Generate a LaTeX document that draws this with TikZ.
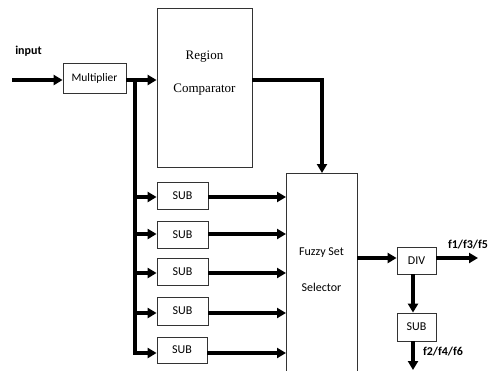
\documentclass[tikz,border=0pt]{standalone}
\usepackage{fontspec}
\setmainfont{Carlito}
\newfontfamily\serifx{Liberation Serif}
\usetikzlibrary{arrows.meta}
\tikzset{
  blk/.style={draw=black!80, line width=0.8pt, fill=white, inner sep=0pt},
  sarrow/.style={line width=3.5pt, -{Triangle[length=9pt,width=10pt]}},
  sline/.style={line width=3.5pt},
  lbl/.style={font=\fontsize{12}{14}\selectfont},
  blbl/.style={font=\bfseries\fontsize{12}{14}\selectfont}
}
\begin{document}
\begin{tikzpicture}[x=1pt,y=-1pt]
\useasboundingbox (0,0) rectangle (492,370);
% boxes
\node[blk, minimum width=63pt, minimum height=30pt, lbl, font=\fontsize{11.5}{14}\selectfont] (mult) at (94.5,78) {Multiplier};
\node[blk, minimum width=95pt, minimum height=159pt] (reg) at (204.5,87.5) {};
\node[font=\serifx\fontsize{13}{15}\selectfont] (regt1) at (204.5,57) {Region};
\node[font=\serifx\fontsize{13}{15}\selectfont] (regt2) at (204.5,90) {Comparator};
\draw[blk] (286,173) -- (286,372) (286,173) -- (357,173) -- (357,372);
\node[lbl] (fz1) at (321.5,253) {Fuzzy Set};
\node[lbl] (fz2) at (321.5,287) {Selector};
\node[blk, minimum width=51pt, minimum height=27pt, lbl] (s1) at (182.5,196) {SUB};
\node[blk, minimum width=51pt, minimum height=27pt, lbl] (s2) at (182.5,235) {SUB};
\node[blk, minimum width=51pt, minimum height=27pt, lbl] (s3) at (182.5,271.5) {SUB};
\node[blk, minimum width=51pt, minimum height=28pt, lbl] (s4) at (182.5,311) {SUB};
\node[blk, minimum width=50pt, minimum height=26pt, lbl] (s5) at (182,350) {SUB};
\node[blk, minimum width=39pt, minimum height=27pt, lbl] (div) at (416.5,260.5) {DIV};
\node[blk, minimum width=39pt, minimum height=28pt, lbl] (sb) at (416.5,327) {SUB};
% labels
\node[blbl] (inp) at (28.5,51) {input};
\node[blbl] (o1) at (468,245) {f1/f3/f5};
\node[blbl] (o2) at (443,352) {f2/f4/f6};
\coordinate (in0) at (12,80);
\coordinate (out1) at (478,258);
\coordinate (out2) at (413,370);
\coordinate (bus) at (135,80);
\coordinate (busb) at (135,353);
% connectors
\draw[sarrow] (in0) -- (in0 -| mult.west);
\draw[sarrow] (mult.east |- in0) -- (reg.west |- in0);
\draw[sline] (bus) -- (busb);
\foreach \s/\y in {s1/197,s2/234,s3/273,s4/313,s5/353}{
  \draw[sarrow] (133.25,\y) -- (\s.west |- 0,\y);
  \draw[sarrow] (\s.east |- 0,\y) -- (286,\y);
}
\draw[sarrow] (reg.east |- in0) -| (322,173);
\draw[sarrow] (357,258) -- (div.west |- 0,258);
\draw[sarrow] (div.east |- 0,258) -- (out1);
\draw[sarrow] (div.south -| 413,0) -- (sb.north -| 413,0);
\draw[sarrow] (sb.south -| 413,0) -- (out2);
\end{tikzpicture}
\end{document}
